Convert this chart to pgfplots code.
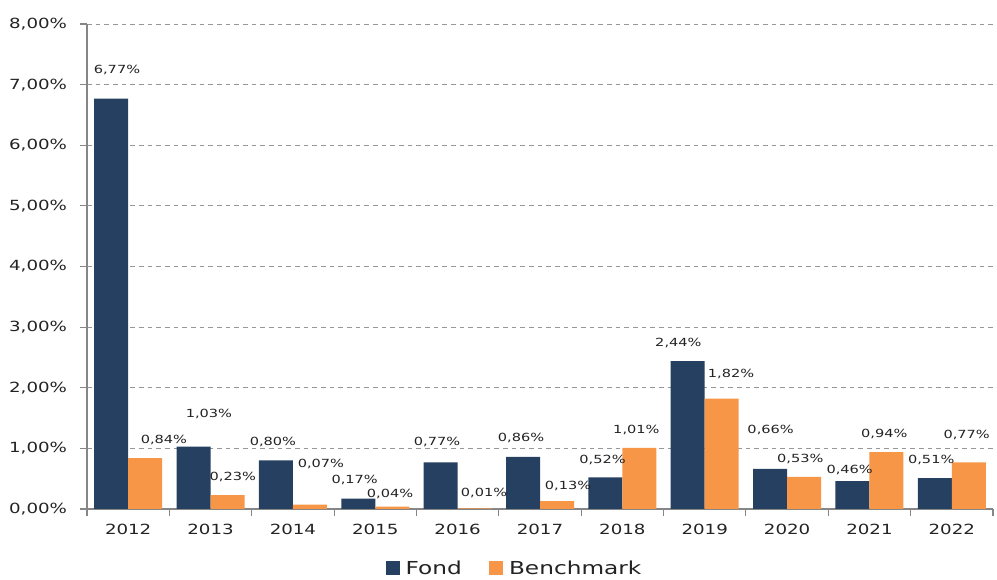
\documentclass[border=0pt]{standalone}
\usepackage{fontspec}
\setmainfont{DejaVu Sans}[FakeStretch=1.3]
\usepackage{pgfplots}
\pgfplotsset{compat=1.18}
\usepackage{pgfplotstable}
\definecolor{fond}{RGB}{38,64,97}
\definecolor{bench}{RGB}{247,150,70}
\definecolor{axgray}{RGB}{134,134,134}
\definecolor{gridgray}{RGB}{150,150,150}
\definecolor{txt}{RGB}{35,35,35}

\pgfplotstableread{
x fond bench
0 6.77 0.84
1 1.03 0.23
2 0.80 0.07
3 0.17 0.04
4 0.77 0.01
5 0.86 0.13
6 0.52 1.01
7 2.44 1.82
8 0.66 0.53
9 0.46 0.94
10 0.51 0.77
}\bars

\begin{document}
\begin{tikzpicture}
\useasboundingbox (-65.25pt,-53.25pt) rectangle (682.5pt,381.75pt);
\begin{axis}[
  at={(0,0)}, anchor=south west,
  scale only axis, width=679.5pt, height=363.75pt,
  xmin=-0.5, xmax=10.5, ymin=0, ymax=8,
  axis lines*=left,
  axis line style={axgray, line width=0.8pt},
  clip=false,
  xtick={0,...,10},
  xticklabels={2012,2013,2014,2015,2016,2017,2018,2019,2020,2021,2022},
  major x tick style={draw=none},
  minor xtick={-0.5,0.5,...,10.5},
  tick align=outside,
  major tick length=5pt, minor tick length=5pt,
  tick style={axgray, line width=0.8pt},
  ytick={0,1,...,8},
  yticklabels={{0,00\%},{1,00\%},{2,00\%},{3,00\%},{4,00\%},{5,00\%},{6,00\%},{7,00\%},{8,00\%}},
  ymajorgrids,
  grid style={gridgray, dash pattern=on 3.5pt off 3pt, line width=0.6pt},
  ticklabel style={font=\fontsize{10.5}{12}\selectfont, text=txt},
  xticklabel style={yshift=-3pt},
  yticklabel style={xshift=-6.5pt},
  legend columns=2,
  legend style={draw=none, at={(0.474,0)}, anchor=center, yshift=-44.5pt,
    font=\fontsize{13.4}{15}\selectfont, text=txt,
    /tikz/every even column/.append style={column sep=16pt},
    nodes={inner xsep=4.5pt}},
]
\addplot[ybar, bar width=25.5pt, bar shift=-12.75pt, fill=fond, draw=none,
  legend image code/.code={\fill[fond] (0pt,-5pt) rectangle (10.5pt,5.5pt);}]
  table[x=x, y=fond]{\bars};
\addlegendentry{Fond}
\addplot[ybar, bar width=25.5pt, bar shift=12.75pt, fill=bench, draw=none,
  legend image code/.code={\fill[bench] (0pt,-5pt) rectangle (10.5pt,5.5pt);}]
  table[x=x, y=bench]{\bars};
\addlegendentry{Benchmark}

\addplot[only marks, mark=none, forget plot, nodes near coords, point meta=explicit symbolic,
  every node near coord/.append style={anchor=center, inner sep=0pt, font=\fontsize{8.4}{10}\selectfont, text=txt}]
  coordinates {
  (-0.136,7.24) [6,77\%]
  (0.98,1.57) [1,03\%]
  (1.757,1.106) [0,80\%]
  (2.75,0.48) [0,17\%]
  (3.75,1.106) [0,77\%]
  (4.77,1.17) [0,86\%]
  (5.76,0.81) [0,52\%]
  (6.68,2.74) [2,44\%]
  (7.80,1.30) [0,66\%]
  (8.76,0.64) [0,46\%]
  (9.75,0.81) [0,51\%]
  };
\addplot[only marks, mark=none, forget plot, nodes near coords, point meta=explicit symbolic,
  every node near coord/.append style={anchor=center, inner sep=0pt, font=\fontsize{8.4}{10}\selectfont, text=txt}]
  coordinates {
  (0.434,1.14) [0,84\%]
  (1.27,0.53) [0,23\%]
  (2.34,0.74) [0,07\%]
  (3.18,0.25) [0,04\%]
  (4.32,0.26) [0,01\%]
  (5.34,0.38) [0,13\%]
  (6.17,1.30) [1,01\%]
  (7.32,2.23) [1,82\%]
  (8.16,0.83) [0,53\%]
  (9.18,1.24) [0,94\%]
  (10.18,1.22) [0,77\%]
  };
\end{axis}
\end{tikzpicture}
\end{document}
